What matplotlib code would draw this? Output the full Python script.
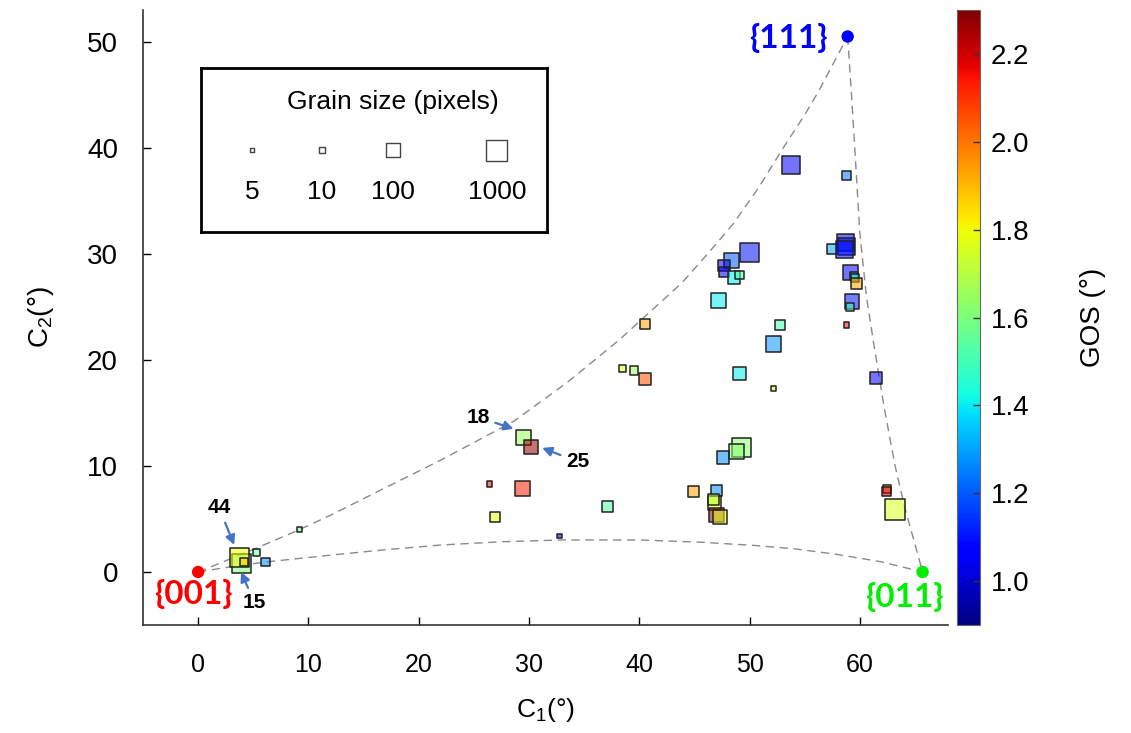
import numpy as np
import matplotlib
matplotlib.use("Agg")
import matplotlib.pyplot as plt
from matplotlib import cm, colors

plt.rcParams['font.family'] = ['Liberation Sans', 'DejaVu Sans']
plt.rcParams['mathtext.fontset'] = 'custom'
plt.rcParams['mathtext.rm'] = 'Liberation Sans'
plt.rcParams['mathtext.it'] = 'Liberation Sans:italic'

# ---------------- data ----------------
c1 = [53.8, 58.8, 57.5, 58.7, 58.8, 58.6, 50.0, 48.4, 47.7, 47.7, 48.6, 49.1,
      47.2, 52.8, 52.2, 59.2, 59.5, 59.6, 59.7, 59.3, 59.1, 58.8,
      38.5, 39.5, 40.5, 49.1, 52.2, 61.5, 40.5,
      29.5, 30.2, 26.4, 29.4, 26.9, 32.8, 37.1, 44.9, 47.0, 46.8, 46.7, 47.0,
      47.3, 49.3, 48.8, 47.6, 62.5, 62.4, 63.2,
      3.94, 3.79, 4.2, 5.3, 6.12, 9.15]
c2 = [38.4, 37.4, 30.5, 31.1, 30.7, 30.4, 30.1, 29.4, 28.9, 28.3, 27.8, 28.0,
      25.6, 23.3, 21.5, 28.2, 27.9, 27.7, 27.2, 25.5, 25.0, 23.3,
      19.2, 19.0, 18.2, 18.7, 17.3, 18.3, 23.4,
      12.7, 11.8, 8.3, 7.9, 5.2, 3.4, 6.2, 7.6, 7.7, 6.5, 6.8, 5.4,
      5.2, 11.7, 11.4, 10.8, 7.8, 7.6, 5.9,
      0.82, 1.39, 0.95, 1.86, 0.92, 4.03]
grain_size = [370, 29, 35, 300, 320, 250, 470, 140, 55, 35, 70, 22,
              110, 35, 140, 140, 20, 20, 42, 110, 19, 11,
              14, 22, 55, 85, 10, 55, 35,
              140, 110, 10, 150, 35, 7, 50, 42, 50, 85, 45, 110,
              100, 520, 140, 65, 22, 27, 900,
              520, 520, 20, 14, 22, 8]
gos = [1.08, 1.24, 1.30, 1.05, 1.08, 1.10, 1.10, 1.20, 1.02, 1.05, 1.40, 1.52,
       1.40, 1.50, 1.28, 1.08, 1.35, 1.50, 1.93, 1.10, 1.50, 2.15,
       1.78, 1.66, 2.05, 1.40, 1.78, 1.07, 1.93,
       1.65, 2.27, 2.15, 2.13, 1.78, 1.00, 1.52, 1.93, 1.27, 1.80, 1.70, 2.27,
       1.78, 1.63, 1.62, 1.27, 1.98, 2.20, 1.76,
       1.60, 1.80, 1.88, 1.55, 1.27, 1.55]

# boundary of the standard triangle
upper_c1 = [0, 4.5, 9.2, 12.1, 16.5, 22.1, 28.6, 33.5, 38.2, 43.9, 46.2, 48.5,
            50.8, 53.0, 55.0, 56.3, 58.9]
upper_c2 = [0, 1.9, 4.0, 5.4, 7.7, 10.6, 14.2, 17.9, 21.9, 27.3, 30.0, 32.8,
            36.2, 39.9, 43.1, 45.4, 50.5]
right_c1 = [58.9, 59.25, 59.55, 60.0, 60.6, 61.3, 62.2, 63.2, 64.1, 64.9, 65.7]
right_c2 = [50.5, 45.0, 39.9, 32.0, 26.0, 21.3, 15.6, 10.0, 6.0, 3.0, 0]
lower_c1 = [0, 3, 6.2, 12.1, 17, 22.1, 27.5, 33.0, 40.0, 45.7, 50.5, 54.2, 58.0, 62.0, 65.7]
lower_c2 = [0, 0.5, 0.95, 1.6, 2.1, 2.55, 2.85, 3.02, 3.02, 2.8, 2.5, 2.17, 1.65, 0.95, 0]

poles = ['{001}', '{111}', '{011}']
pole_c1 = [0.0, 58.9, 65.7]
pole_c2 = [0.0, 50.5, 0.0]
pole_colors = ['#ff0000', '#0000ff', '#00ee00']

legend_sizes = [5, 10, 100, 1000]
gos_ticks = [1.0, 1.2, 1.4, 1.6, 1.8, 2.0, 2.2]

DPI = 100


def marker_area(n):
    # grain size -> square side (px), log scaled like the legend
    side_px = np.interp(np.log10(n), [0.7, 1, 2, 3], [4.3, 5.3, 14, 21])
    return (side_px * 72 / DPI) ** 2


fig = plt.figure(figsize=(11.31, 7.33), dpi=DPI)
ax = fig.add_axes([143 / 1131, 1 - 625 / 733, 805 / 1131, 615 / 733])

cmap = plt.get_cmap('jet')
norm = colors.Normalize(vmin=0.9, vmax=2.3)

# dashed boundary
dash = dict(color='#8a8a8a', lw=1.0, dashes=(6, 4), zorder=1)
ax.plot(upper_c1, upper_c2, **dash)
ax.plot(right_c1, right_c2, **dash)
ax.plot(lower_c1, lower_c2, **dash)

# grains
face = cmap(norm(np.array(gos)))
face[:, 3] = 0.55
ax.scatter(c1, c2, s=marker_area(np.array(grain_size)), marker='s',
           facecolors=face, edgecolors='#222222', linewidths=1.1, zorder=3)

# poles
ax.scatter(pole_c1, pole_c2, s=80, c=pole_colors, zorder=4, linewidths=0)
lab_font = dict(fontsize=24, fontweight='bold', family='Lato', ha='center', va='center')
ax.text(-0.4, -2.1, poles[0], color=pole_colors[0], **lab_font)
ax.text(53.5, 50.4, poles[1], color=pole_colors[1], **lab_font)
ax.text(64.0, -2.4, poles[2], color=pole_colors[2], **lab_font)

# grain id annotations
arr = dict(arrowstyle='-|>', color='#4472c4', lw=1.6, mutation_scale=14,
           shrinkA=2, shrinkB=0)
ann = dict(fontsize=15, fontweight='bold', ha='center', va='center', zorder=5)
ax.annotate('18', xy=(28.6, 13.5), xytext=(25.4, 14.6), arrowprops=arr, **ann)
ax.annotate('25', xy=(31.2, 11.7), xytext=(34.4, 10.4), arrowprops=arr, **ann)
ax.annotate('44', xy=(3.27, 2.55), xytext=(1.9, 6.05), arrowprops=arr, **ann)
ax.annotate('15', xy=(3.9, 0.0), xytext=(5.1, -2.9), arrowprops=arr, **ann)

ax.set_xlim(-5, 68)
ax.set_ylim(-5, 53)
ax.set_xticks(range(0, 61, 10))
ax.set_yticks(range(0, 51, 10))
for s in ['top', 'right']:
    ax.spines[s].set_visible(False)
for s in ['left', 'bottom']:
    ax.spines[s].set_color('#333333')
    ax.spines[s].set_linewidth(1.2)
ax.tick_params(axis='x', direction='in', length=6, width=1, labelsize=18, pad=20)
ax.tick_params(axis='y', direction='in', length=6, width=1, labelsize=20, pad=18)
ax.set_xlabel('C$_1$(°)', fontsize=19, labelpad=14)
ax.set_ylabel('C$_2$(°)', fontsize=20, labelpad=22)

# grain size legend box
lax = fig.add_axes([201 / 1131, 1 - 232 / 733, 346 / 1131, 164 / 733])
lax.set_xlim(0, 1)
lax.set_ylim(0, 1)
lax.set_xticks([])
lax.set_yticks([])
for s in lax.spines.values():
    s.set_linewidth(2)
lax.text(0.555, 0.79, 'Grain size (pixels)', ha='center', va='center', fontsize=19)
lx = [0.147, 0.35, 0.555, 0.855]
lax.scatter(lx, [0.5] * 4, s=marker_area(np.array(legend_sizes)), marker='s',
            facecolors='white', edgecolors='#444444', linewidths=1.0)
for x, n in zip(lx, legend_sizes):
    lax.text(x, 0.245, str(n), ha='center', va='center', fontsize=19)

# colorbar
cax = fig.add_axes([957 / 1131, 1 - 625 / 733, 23 / 1131, 615 / 733])
sm = cm.ScalarMappable(norm=norm, cmap=cmap)
cb = fig.colorbar(sm, cax=cax, ticks=gos_ticks, format='%.1f')
cb.outline.set_edgecolor('#666666')
cb.ax.tick_params(direction='in', length=5, width=1, labelsize=20, pad=8, color='#333333')
cb.set_label('GOS (°)', fontsize=20, labelpad=36)

fig.savefig('out.png', dpi=DPI)
